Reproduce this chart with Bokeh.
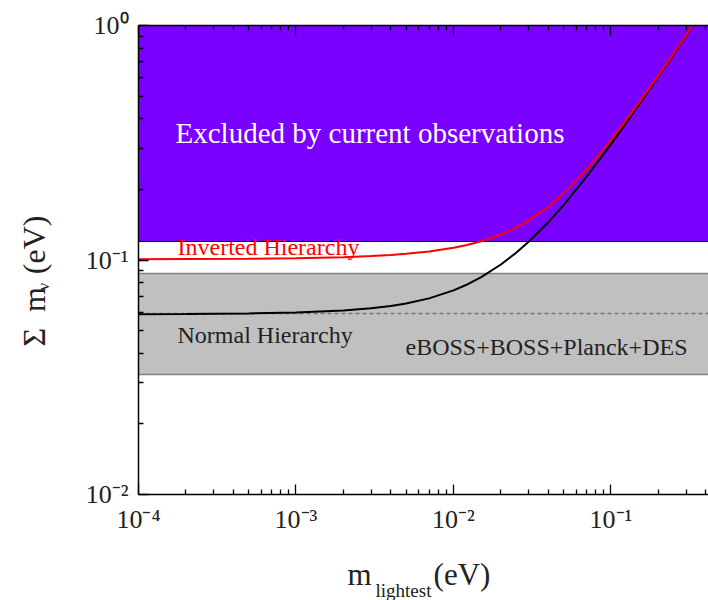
import math
from bokeh.plotting import figure
from bokeh.models import (FixedTicker, LogAxis, CustomJSTickFormatter, Label)
from bokeh.embed import file_html
from bokeh.resources import INLINE

# ---- data ----
m_lightest = [1e-4, 2e-4, 5e-4, 1e-3, 2e-3, 3e-3, 4e-3, 5e-3, 7e-3, 1e-2, 1.2e-2,
              1.5e-2, 2e-2, 2.5e-2, 3e-2, 4e-2, 5e-2, 7e-2, 0.1, 0.12, 0.15, 0.2,
              0.25, 0.3, 0.35]
sum_normal = [0.05876, 0.05886, 0.05918, 0.05973, 0.06093, 0.06226, 0.0637, 0.06525,
              0.06862, 0.07422, 0.07822, 0.08452, 0.09565, 0.10736, 0.11954, 0.14496,
              0.17146, 0.22656, 0.31218, 0.37031, 0.45836, 0.60634, 0.7551, 0.90426,
              1.05366]
sum_inverted = [0.10084, 0.10094, 0.10125, 0.10176, 0.10282, 0.10392, 0.10506, 0.10624,
                0.10871, 0.11271, 0.11556, 0.12012, 0.1284, 0.13747, 0.14726, 0.16865,
                0.19195, 0.24248, 0.32394, 0.38029, 0.46647, 0.61249, 0.76005, 0.9084,
                1.05721]
excluded_band = [0.12, 1.0]          # excluded by current observations
constraint_band = [0.0326, 0.088]    # eBOSS+BOSS+Planck+DES
constraint_central = [0.059]

x_major = [1e-4, 1e-3, 1e-2, 1e-1]
y_major = [1e-2, 1e-1, 1.0]

FONT = "Liberation Serif"

x_minor = [k * d for d in x_major for k in range(2, 10) if k * d < 0.42]
y_minor = [k * d for d in y_major[:-1] for k in range(2, 10)]

p = figure(width=708, height=600, x_axis_type="log", y_axis_type="log",
           x_range=(1e-4, 0.416), y_range=(1e-2, 1.0),
           toolbar_location=None, output_backend="svg",
           min_border_left=138, min_border_right=0, min_border_top=25,
           min_border_bottom=106)
p.outline_line_color = None
p.grid.visible = False

# bands
p.hstrip(y0=[constraint_band[0]], y1=[constraint_band[1]], fill_color="#c0c0c0",
         line_color=None)
p.hspan(y=constraint_band, line_color="#808080", line_width=1.5)
p.hspan(y=constraint_central, line_color="#777777", line_width=1.5, line_dash="4 3")
p.hstrip(y0=[excluded_band[0]], y1=[excluded_band[1]], fill_color="#7a00ff",
         line_color=None)
p.hspan(y=[excluded_band[0]], line_color="black", line_width=1.2)

# curves
p.line(m_lightest, sum_normal, line_color="black", line_width=2)
p.line(m_lightest, sum_inverted, line_color="#ff0000", line_width=2)

JS = """
const e = Math.round(Math.log10(tick));
const sup = {"-":"\\u207b","0":"\\u2070","1":"\\u00b9","2":"\\u00b2","3":"\\u00b3","4":"\\u2074"};
return "10" + String(e).split("").map(c => sup[c]).join("");
"""

def style(ax, labels=True):
    ax.axis_line_color = "black"
    ax.axis_line_width = 1.5
    ax.major_tick_in = 10
    ax.major_tick_out = 0
    ax.minor_tick_in = 5
    ax.minor_tick_out = 0
    ax.major_tick_line_width = 1.3
    ax.minor_tick_line_width = 1.3
    ax.major_tick_line_color = "black"
    ax.minor_tick_line_color = "black"
    ax.major_label_text_font = FONT
    ax.major_label_text_font_size = "26px"
    ax.major_label_text_color = "#222222"
    ax.major_label_standoff = 10
    ax.axis_label = None
    ax.formatter = CustomJSTickFormatter(code=JS)
    if not labels:
        ax.major_label_text_font_size = "2px"
        ax.major_label_text_alpha = 0
        ax.major_label_standoff = 0

p.xaxis.ticker = FixedTicker(ticks=x_major, minor_ticks=x_minor)
p.yaxis.ticker = FixedTicker(ticks=y_major, minor_ticks=y_minor)
style(p.xaxis[0])
style(p.yaxis[0])

top = LogAxis(ticker=FixedTicker(ticks=x_major, minor_ticks=x_minor))
style(top, labels=False)
p.add_layout(top, "above")

def lab(text, x, y, size, color="#222222", angle=0.0, place="center"):
    p.add_layout(Label(x=x, y=y, x_units="screen", y_units="screen", text=text,
                       text_font=FONT, text_font_size=size, text_color=color,
                       text_baseline="alphabetic", text_align="left", angle=angle),
                 place)

lab("Excluded by current observations", 37, 362, "29px", color="white")
lab("Inverted Hierarchy", 39, 248, "24px", color="#ff0000")
lab("Normal Hierarchy", 39, 160, "24px")
lab("eBOSS+BOSS+Planck+DES", 267, 148, "24px")

# axis titles (in side panels so they are not clipped by the frame)
lab("m\u2003\u2003(eV)", 209, -3, "31px", place="below")
lab("lightest", 237, 2, "19px", place="below")

lab("\u03a3\u2002m\u2009\u2009(eV)", -13, 148, "32px", angle=math.pi / 2, place="left")
lab("\u03bd", 16, 204, "17px", angle=math.pi / 2, place="left")

open("out.html", "w").write(file_html(p, INLINE))
